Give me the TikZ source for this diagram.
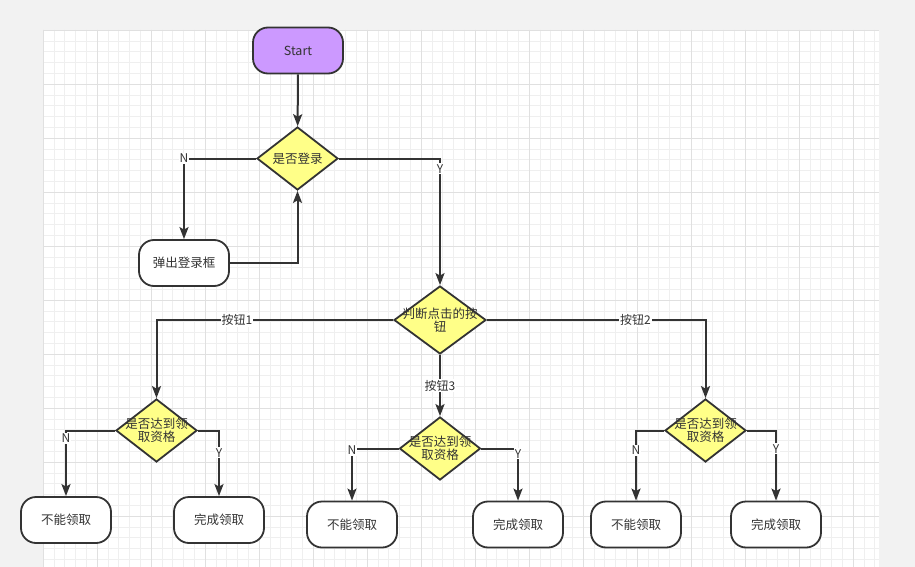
\documentclass[tikz,border=0pt]{standalone}
\usepackage{fontspec}
\setmainfont{Noto Sans CJK SC}
\usetikzlibrary{shapes.geometric,arrows.meta}
\definecolor{ink}{HTML}{333333}
\definecolor{startfill}{HTML}{CC99FF}
\definecolor{askfill}{HTML}{FFFF88}
\definecolor{page}{HTML}{F2F2F2}
\definecolor{gridlo}{HTML}{EFEFEF}
\definecolor{gridhi}{HTML}{E0E0E0}
\begin{document}
\begin{tikzpicture}[x=1pt,y=-1pt,>={Stealth[length=12pt,width=9pt,inset=2.5pt]},
  term/.style={draw=ink,line width=1.8pt,rounded corners=15pt,minimum width=90pt,minimum height=46pt,inner sep=0pt,text=ink,font=\fontsize{12.5}{14}\selectfont},
  ask/.style={diamond,draw=ink,line width=1.8pt,fill=askfill,minimum width=81pt,minimum height=63pt,inner sep=0pt},
  asktext/.style={align=center,text=ink,font=\fontsize{12.5}{13.5}\selectfont},
  lab/.style={fill=white,inner sep=1pt,text=ink,font=\fontsize{12}{13}\selectfont},
  flow/.style={->,draw=ink,line width=2pt}]
\useasboundingbox (0,0) rectangle (915,567);
\fill[page] (0,0) rectangle (915,567);
\fill[white] (43,30) rectangle (879,567);
\foreach \i in {0,...,77} \draw[gridlo] ({43+\i*10.8},30)--({43+\i*10.8},567);
\foreach \j in {0,...,49} \draw[gridlo] (43,{30+\j*10.8})--(879,{30+\j*10.8});
\foreach \i in {0,...,15} \draw[gridhi] ({43+\i*54},30)--({43+\i*54},567);
\foreach \j in {0,...,9} \draw[gridhi] (43,{30+\j*54})--(879,{30+\j*54});

\node[term,fill=startfill] (start) at (298,50.5) {Start};
\node[ask] (login) at (297.5,158.5) {};
\node[asktext] at (login) {是否登录};
\node[term,fill=white] (popup) at (184,263) {弹出登录框};
\node[ask,minimum width=92pt,minimum height=68pt] (btn) at (440,320) {};
\node[asktext] at (btn) {判断点击的按\\钮};

\node[ask] (chkA) at (156.5,430.5) {};
\node[asktext] at (chkA) {是否达到领\\取资格};
\node[ask] (chkB) at (440,448.5) {};
\node[asktext] at (chkB) {是否达到领\\取资格};
\node[ask] (chkC) at (705.5,430.5) {};
\node[asktext] at (chkC) {是否达到领\\取资格};

\node[term,fill=white] (noA) at (66,520) {不能领取};
\node[term,fill=white] (okA) at (219,520) {完成领取};
\node[term,fill=white] (noB) at (352,524.5) {不能领取};
\node[term,fill=white] (okB) at (518,524.5) {完成领取};
\node[term,fill=white] (noC) at (636,524.5) {不能领取};
\node[term,fill=white] (okC) at (776,524.5) {完成领取};

\draw[flow] (start)--(login);
\draw[flow] (login.west) -| node[lab,pos=.5]{N} (popup.north);
\draw[flow] (popup.east) -| (login.south);
\draw[flow] (login.east) -| node[lab,pos=.54]{Y} (btn.north);
\draw[flow] (btn.west) -| node[lab,pos=.33]{按钮1} (chkA.north);
\draw[flow] (btn.east) -| node[lab,pos=.34]{按钮2} (chkC.north);
\draw[flow] (btn.south) -- node[lab]{按钮3} (chkB.north);

\draw[flow] (chkA.west) -| node[lab,pos=.56]{N} (noA.north);
\draw[flow] (chkA.east) -| node[lab,pos=.67]{Y} (okA.north);
\draw[flow] (chkB.west) -| node[lab,pos=.52]{N} (noB.north);
\draw[flow] (chkB.east) -| node[lab,pos=.55]{Y} (okB.north);
\draw[flow] (chkC.west) -| node[lab,pos=.64]{N} (noC.north);
\draw[flow] (chkC.east) -| node[lab,pos=.63]{Y} (okC.north);
\end{tikzpicture}
\end{document}
